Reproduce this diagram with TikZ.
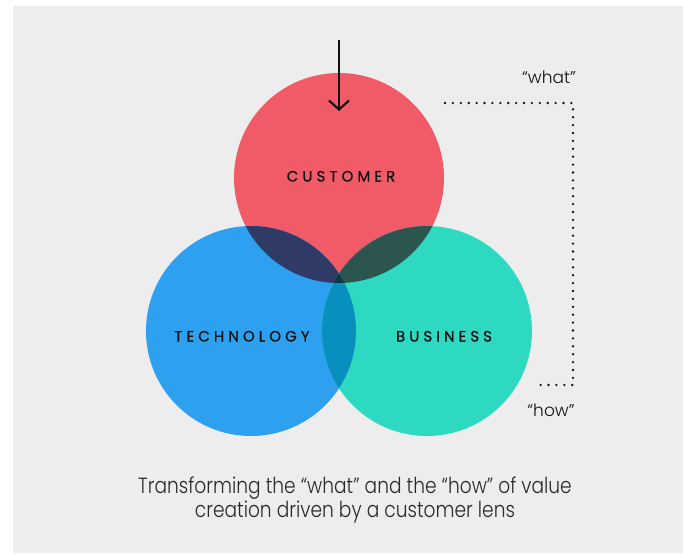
\documentclass[tikz,border=0pt]{standalone}
\usepackage{fontspec}
\setmainfont{Poppins}
\newfontfamily\lightfont{Poppins Light}
\usetikzlibrary{arrows.meta}
\definecolor{bg}{HTML}{EDEDED}
\definecolor{cred}{HTML}{F15A67}
\definecolor{cblue}{HTML}{2EA0F0}
\definecolor{cteal}{HTML}{2DDAC1}
\definecolor{rb}{HTML}{2F3A66}
\definecolor{rt}{HTML}{2C554F}
\definecolor{bt}{HTML}{078FBD}
\definecolor{rbt}{HTML}{0C3848}
\definecolor{ink}{HTML}{111111}
\tikzset{
  lbl/.style={font=\fontsize{15}{17}\selectfont\addfontfeature{LetterSpace=27,FakeBold=0.6}, text=ink, inner sep=0pt, anchor=base},
  quote/.style={font=\lightfont\fontsize{17}{19}\selectfont, text=ink, inner sep=0pt, anchor=base},
  caption/.style={font=\lightfont\fontsize{22}{24}\selectfont, text=ink!90, inner sep=0pt, anchor=base},
  dots/.style={line width=2.6pt, line cap=round, dash pattern=on 0pt off 7.9pt, ink},
  pointer/.style={line width=2.2pt, ink, -{Straight Barb[length=9pt,width=20pt,line width=2.2pt]}},
}
\begin{document}
\begin{tikzpicture}[x=1pt,y=-1pt]
\useasboundingbox (0,0) rectangle (683,554);
\fill[white] (0,0) rectangle (683,554);
\fill[bg] (13,6) rectangle (683,553);
% circles
\def\R{105}
\coordinate (cc) at (339,178);
\coordinate (tc) at (251,331);
\coordinate (bc) at (427,331);
\fill[cred] (cc) circle (\R);
\fill[cblue] (tc) circle (\R);
\fill[cteal] (bc) circle (\R);
\begin{scope}
  \clip (cc) circle (\R);
  \fill[rb] (tc) circle (\R);
  \fill[rt] (bc) circle (\R);
\end{scope}
\begin{scope}
  \clip (tc) circle (\R);
  \fill[bt] (bc) circle (\R);
  \clip (bc) circle (\R);
  \fill[rbt] (cc) circle (\R);
\end{scope}
% labels
\node[lbl] (customer) at (341,181.5) {CUSTOMER};
\node[lbl] (technology) at (242,341.5) {TECHNOLOGY};
\node[lbl] (business) at (444,341.5) {BUSINESS};
% arrow
\coordinate (arrS) at (339,40);
\coordinate (arrE) at (339,111);
\draw[pointer] (arrS) -- (arrE);
% dotted bracket
\coordinate (w1) at (445,103);
\coordinate (w2) at (573,103);
\coordinate (h2) at (573,385);
\coordinate (h1) at (540,385);
\draw[dots] (w1) -- (w2) -- (h2) -- (h1);
\node[quote] (what) at (549,83) {“what”};
\node[quote] (how) at (551,416) {“how”};
% caption
\node[caption] (cap1) at (355,493) {\scalebox{0.845}[1]{Transforming the “what” and the “how” of value}};
\node[caption] (cap2) at (355,517) {\scalebox{0.845}[1]{creation driven by a customer lens}};
\end{tikzpicture}
\end{document}
